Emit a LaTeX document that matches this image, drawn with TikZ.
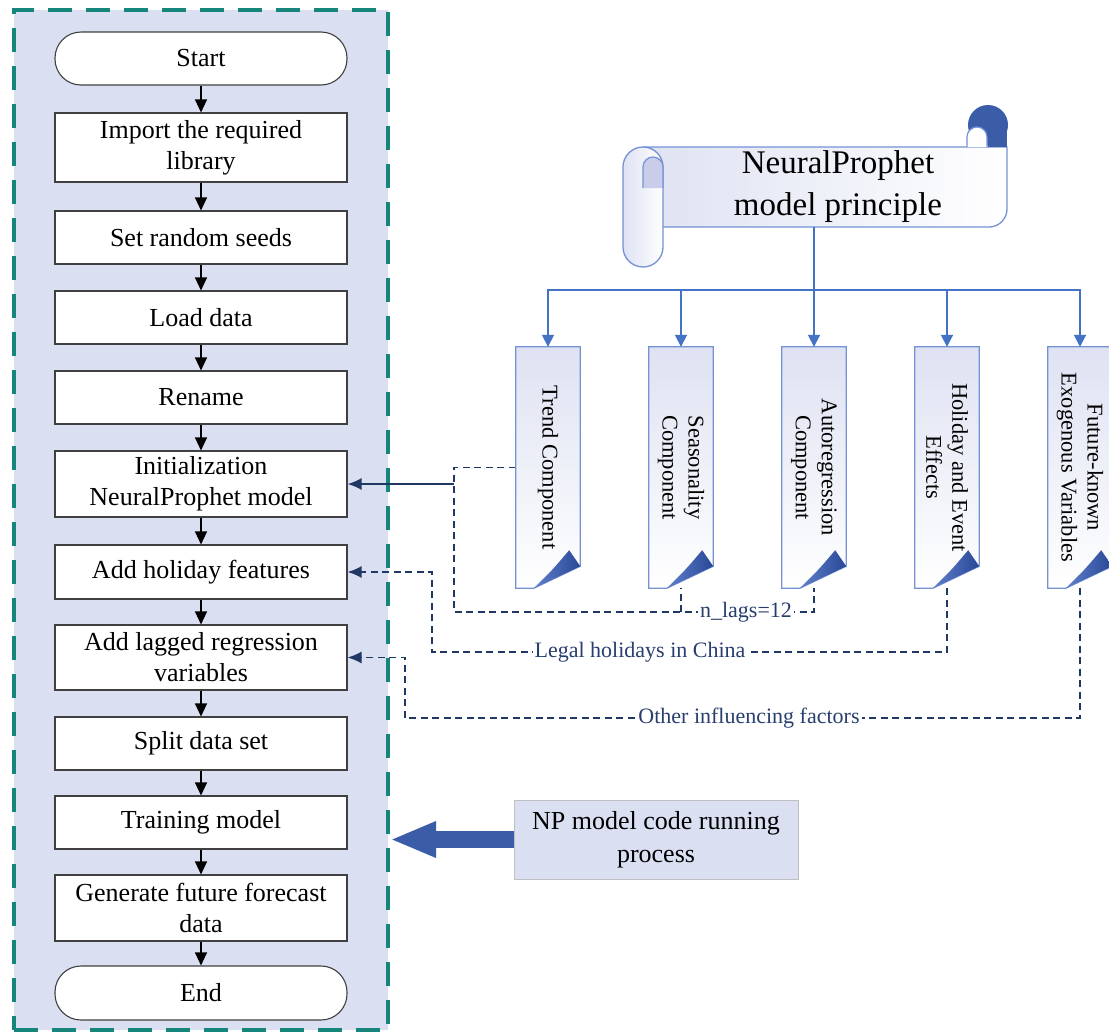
\documentclass[tikz,border=0pt]{standalone}
\usepackage{fontspec}
\setmainfont{Liberation Serif}
\usetikzlibrary{arrows.meta,calc}
\definecolor{outerfill}{RGB}{218,224,242}
\definecolor{teal2}{RGB}{22,134,124}
\definecolor{bconn}{RGB}{68,114,196}
\definecolor{navy}{RGB}{31,56,100}
\definecolor{navytext}{RGB}{40,62,110}
\definecolor{compblue}{RGB}{116,146,212}
\definecolor{complav}{RGB}{222,226,242}
\definecolor{foldA}{RGB}{96,128,204}
\definecolor{foldB}{RGB}{40,72,150}
\definecolor{bigblue}{RGB}{59,93,168}
\definecolor{curl}{RGB}{201,205,234}
\newcommand\compshape[1]{%
  \shadedraw[top color=complav, bottom color=white, draw=compblue, line width=1.3pt]
    (#1.north west) -- (#1.north east) -- ([yshift=22pt]#1.south east)
    -- ([xshift=18pt]#1.south west) -- (#1.south west) -- cycle;
  \shade[left color=foldA, right color=foldB]
    ([xshift=18pt]#1.south west) .. controls ([xshift=-28pt,yshift=18pt]#1.south east) ..
    ([xshift=-11pt,yshift=38pt]#1.south east) -- ([yshift=22pt]#1.south east) -- cycle;
}
\tikzset{
  box/.style={draw=black!75, line width=1.1pt, fill=white, minimum width=292pt, align=center,
    inner sep=2pt, font=\fontsize{26}{31}\selectfont},
  capsule/.style={box, rounded corners=26pt},
  flow/.style={draw=black, line width=1.2pt, -{Triangle[length=13pt,width=12pt]}},
  comp/.style={minimum width=64pt, minimum height=241pt, inner sep=0pt, draw=none},
  ctext/.style={rotate=-90, align=center, font=\fontsize{22.5}{26}\selectfont},
  bline/.style={draw=bconn, line width=1.8pt},
  barrow/.style={bline, -{Triangle[length=12pt,width=12pt]}},
  nconn/.style={draw=navy, line width=1.6pt, dash pattern=on 7pt off 4.5pt},
  ntip/.style={-{Latex[length=14pt,width=12pt]}},
  lbl/.style={fill=white, inner sep=2pt, text=navytext, font=\fontsize{22}{26}\selectfont},
}
\begin{document}
\begin{tikzpicture}[x=1pt,y=-1pt]
\useasboundingbox (0,0) rectangle (1109,1034);
\fill[white] (0,0) rectangle (1109,1034);
% outer frame
\node[draw=teal2, fill=outerfill, line width=4pt, dash pattern=on 24pt off 14pt,
  minimum width=374pt, minimum height=1020pt, inner sep=0pt] (outer) at (201,520) {};
% flow nodes
\node[capsule, minimum height=53pt] (start) at (201,58.5) {Start};
\node[box, minimum height=69pt] (imp) at (201,147.5) {Import the required\\library};
\node[box, minimum height=53pt] (seed) at (201,237.5) {Set random seeds};
\node[box, minimum height=53pt] (load) at (201,317.5) {Load data};
\node[box, minimum height=53pt] (ren) at (201,397.5) {Rename};
\node[box, minimum height=66pt] (init) at (201,484) {Initialization\\NeuralProphet model};
\node[box, minimum height=54pt] (hol) at (201,572) {Add holiday features};
\node[box, minimum height=65pt] (lag) at (201,657.5) {Add lagged regression\\variables};
\node[box, minimum height=53pt] (split) at (201,743.5) {Split data set};
\node[box, minimum height=53pt] (train) at (201,822.5) {Training model};
\node[box, minimum height=66pt] (gen) at (201,908) {Generate future forecast\\data};
\node[capsule, minimum height=54pt] (end) at (201,993) {End};
\foreach \a/\b in {start/imp,imp/seed,seed/load,load/ren,ren/init,init/hol,hol/lag,lag/split,split/train,train/gen,gen/end}
  \draw[flow] (\a) -- (\b);
% component nodes
\node[comp] (c1) at (548,467.5) {};
\node[comp] (c2) at (681,467.5) {};
\node[comp] (c3) at (814,467.5) {};
\node[comp] (c4) at (947,467.5) {};
\node[comp] (c5) at (1080,467.5) {};
% dashed connectors
\coordinate (j0) at (454,484);
\coordinate (j1) at (454,612);
\coordinate (j2) at (681,612);
\draw[nconn] (c1.west) -| (j1) -| (c3.south);
\draw[nconn] (j2) -- (c2.south);
\node[lbl] at (746,612) {n\_lags=12};
\draw[navy, line width=1.8pt, -{Latex[length=14pt,width=12pt]}] (j0) -- (init.east);
\coordinate (k1) at (432,652);
\draw[nconn, ntip] (c4.south) |- (k1) |- (hol.east);
\node[lbl] at (640,652) {Legal holidays in China};
\coordinate (k2) at (405,718);
\draw[nconn, ntip] (c5.south) |- (k2) |- (lag.east);
\node[lbl] at (749,718) {Other influencing factors};
% component shapes
\compshape{c1}\compshape{c2}\compshape{c3}\compshape{c4}\compshape{c5}
\node[ctext] at (c1) {Trend Component};
\node[ctext] at (c2) {Seasonality\\Component};
\node[ctext] at (c3) {Autoregression\\Component};
\node[ctext] at (c4) {Holiday and Event\\Effects};
\node[ctext] at (c5) {Future-known\\Exogenous Variables};
% scroll
\shadedraw[left color=complav, right color=white, draw=compblue, line width=1.3pt]
  (643,147) -- (1007,147) [rounded corners=18pt] -- (1007,227) -- (663,227) [sharp corners] -- (643,227) -- cycle;
\fill[bigblue] (988,125) circle (20pt);
\fill[bigblue] (988,125) rectangle (1007,147);
\filldraw[fill=white, draw=compblue, line width=1.2pt] (967,147) -- (967,137) arc (180:0:10pt) -- (987,147);
\shadedraw[left color=complav, right color=white, draw=compblue, line width=1.3pt, rounded corners=20pt]
  (623,147) rectangle (663,267);
\filldraw[fill=curl, draw=compblue, line width=1.2pt] (643,188) -- (643,167) arc (180:0:10pt) -- (663,188);
\node[align=center, font=\fontsize{33}{42}\selectfont] (scroll) at (838,187) {NeuralProphet\\model principle};
\coordinate (sb) at (814,227);
\coordinate (bus) at (814,290);
\draw[bline] (sb) -- (bus);
\foreach \n in {c1,c2,c3,c4,c5}
  \draw[barrow] (bus) -| (\n.north);
% NP box and big arrow
\node[draw=black!25, fill=outerfill, line width=1pt, minimum width=284pt, minimum height=79pt,
  align=center, font=\fontsize{26}{33}\selectfont] (np) at (656,839.5) {NP model code running\\process};
\draw[bigblue, line width=17pt, -{Triangle[length=46pt,width=33pt]}] (np.west) -- (np.west -| outer.east);
\end{tikzpicture}
\end{document}
